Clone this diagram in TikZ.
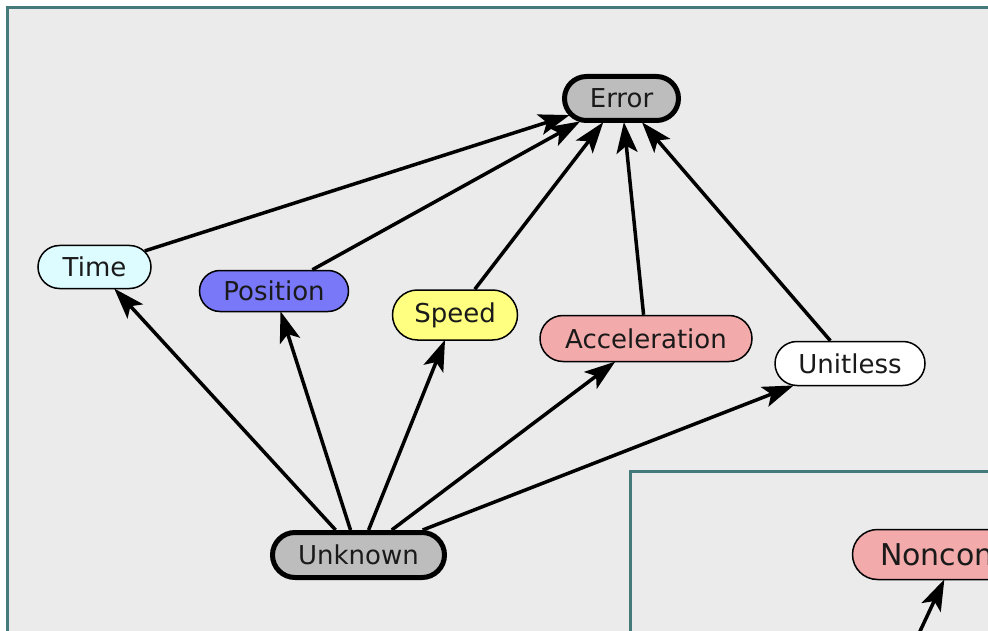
\documentclass[tikz,border=0pt]{standalone}
\usepackage{fontspec}
\setmainfont{DejaVu Sans}
\usetikzlibrary{shapes.misc,arrows.meta}

\definecolor{panelbg}{HTML}{EBEBEB}
\definecolor{frameteal}{HTML}{457A7A}
\definecolor{errgray}{HTML}{BDBDBD}
\definecolor{timecyan}{HTML}{DDFCFF}
\definecolor{posblue}{HTML}{7878F8}
\definecolor{speedyellow}{HTML}{FFFF80}
\definecolor{accpink}{HTML}{F2AAAA}
\definecolor{inktext}{HTML}{1A1A1A}

\tikzset{
  concept/.style={rounded rectangle, draw=black, line width=1.5pt, inner sep=0pt,
    text=inktext, font=\fontsize{26}{28}\selectfont},
  rootconcept/.style={concept, line width=5pt},
  isa/.style={draw=black, line width=3.5pt,
    -{Stealth[length=31pt, width=21pt, inset=7pt]}, shorten >=-1pt},
  panel/.style={draw=frameteal, line width=2.5pt, fill=panelbg}
}

\begin{document}
\begin{tikzpicture}[x=1pt, y=-1pt]
  \useasboundingbox (0,0) rectangle (988,631);
  \clip (0,0) rectangle (988,631);
  \fill[white] (0,0) rectangle (988,631);

  % outer canvas and the inset panel at the lower right
  \draw[panel] (7.5,7.5) rectangle (1010,650);
  \draw[panel] (630.5,471.5) rectangle (1010,650);

  % concepts
  \node[rootconcept, fill=errgray, minimum width=114pt, minimum height=44pt] (error) at (621.5,98.5) {Error};
  \node[concept, fill=timecyan, minimum width=113pt, minimum height=43pt] (time) at (94.5,267) {Time};
  \node[concept, fill=posblue, minimum width=149pt, minimum height=41pt] (position) at (274,291) {Position};
  \node[concept, fill=speedyellow, minimum width=125pt, minimum height=50pt] (speed) at (455,315) {Speed};
  \node[concept, fill=accpink, minimum width=212pt, minimum height=46pt] (accel) at (646,338.5) {Acceleration};
  \node[concept, fill=white, minimum width=150pt, minimum height=44pt] (unitless) at (850,363.5) {Unitless};
  \node[rootconcept, fill=errgray, minimum width=172pt, minimum height=45pt] (unknown) at (358.5,555) {Unknown};
  \node[concept, fill=accpink, minimum width=207pt, minimum height=50pt,
        font=\fontsize{30}{32}\selectfont] (noncon) at (956,554.5) {\makebox[152pt][l]{Noncon}};
  \coordinate (nonconsrc) at (906.5,660);

  % specialisation links
  \draw[isa] (time) -- (error);
  \draw[isa] (position) -- (error);
  \draw[isa] (speed) -- (error);
  \draw[isa] (accel) -- (error);
  \draw[isa] (unitless) -- (error);

  \draw[isa] (unknown) -- (time);
  \draw[isa] (unknown) -- (position);
  \draw[isa] (unknown) -- (speed);
  \draw[isa] (unknown) -- (accel);
  \draw[isa] (unknown) -- (unitless);

  \draw[isa] (nonconsrc) -- (noncon);
\end{tikzpicture}
\end{document}
